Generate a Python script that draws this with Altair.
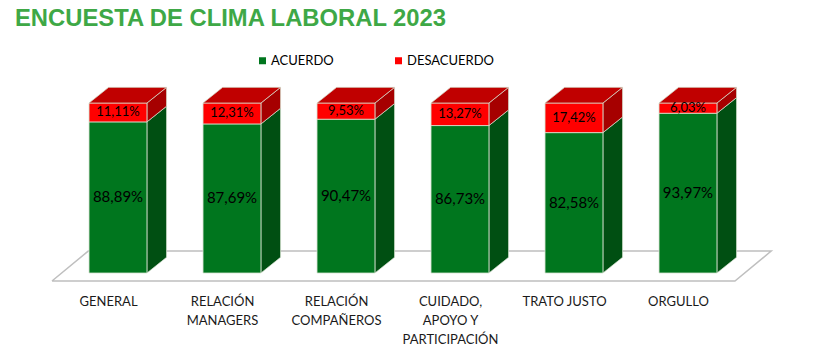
import altair as alt
import pandas as pd

# ---- data ----
categories = ["GENERAL", "RELACIÓN\nMANAGERS", "RELACIÓN\nCOMPAÑEROS",
              "CUIDADO,\nAPOYO Y\nPARTICIPACIÓN", "TRATO JUSTO", "ORGULLO"]
acuerdo = [88.89, 87.69, 90.47, 86.73, 82.58, 93.97]
desacuerdo = [11.11, 12.31, 9.53, 13.27, 17.42, 6.03]
series_names = ["ACUERDO", "DESACUERDO"]

# ---- styling / geometry constants ----
HALF = 0.254      # half bar width (category units)
DX = 0.172        # 3D depth, horizontal (category units)
DY = 9.2          # 3D depth, vertical (value units)
LABEL_SHIFT = -0.083
X_DOM = [-1.035, 6.237]
Y_DOM = [-49.41, 137.06]
GREEN, RED = "#00761E", "#FF0000"
GREEN_SIDE, RED_SIDE, RED_TOP = "#004F12", "#A60000", "#C00000"
EDGE = "#d6e3d0"
FONT = "Lato"


def fmt(v):
    return f"{v:.2f}".replace(".", ",") + "%"


front_rows, side_rows, top_rows, cat_rows = [], [], [], []
for i, cat in enumerate(categories):
    xl, xr = i - HALF, i + HALF
    segs = [("ACUERDO", 0.0, acuerdo[i], 15, GREEN_SIDE),
            ("DESACUERDO", acuerdo[i], acuerdo[i] + desacuerdo[i], 13, RED_SIDE)]
    for s, y0, y1, fs, sc in segs:
        front_rows.append(dict(i=i, series=s, xl=xl, xr=xr, xc=i, y0=y0, y1=y1,
                               ym=(y0 + y1) / 2, lab=fmt(y1 - y0), fs=fs))
        face = f"{i}-{s}"
        side_rows.append(dict(face=face, x=xr, ylo=y0, yhi=y1, col=sc))
        side_rows.append(dict(face=face, x=xr + DX, ylo=y0 + DY, yhi=y1 + DY, col=sc))
    total = acuerdo[i] + desacuerdo[i]
    top_rows.append(dict(i=i, y=total, xa=xl, xb=xr))
    top_rows.append(dict(i=i, y=total + DY, xa=xl + DX, xb=xr + DX))
    cat_rows.append(dict(x=i + LABEL_SHIFT, y=-19.2, cat=cat))

n = len(categories)
fl, fr = -HALF - 0.325, (n - 1) + HALF + 0.158
floor_front, floor_back = -4.7, 12.9
floor_dx = 0.318
floor_rows = [
    dict(o=0, x=fl, y=floor_front),
    dict(o=1, x=fr, y=floor_front),
    dict(o=2, x=fr + floor_dx, y=floor_back),
    dict(o=3, x=fl + floor_dx, y=floor_back),
    dict(o=4, x=fl, y=floor_front),
]

front_df = pd.DataFrame(front_rows)
side_df = pd.DataFrame(side_rows)
top_df = pd.DataFrame(top_rows)
cat_df = pd.DataFrame(cat_rows)
floor_df = pd.DataFrame(floor_rows)

xs = alt.Scale(domain=X_DOM, nice=False, zero=False)
ys = alt.Scale(domain=Y_DOM, nice=False, zero=False)

floor = alt.Chart(floor_df).mark_line(color="#BFBFBF", strokeWidth=1.5).encode(
    x=alt.X("x:Q", scale=xs, axis=None),
    y=alt.Y("y:Q", scale=ys, axis=None),
    order="o:Q",
)

side = alt.Chart(side_df).mark_area(orient="vertical", stroke=EDGE, strokeWidth=0.7).encode(
    x=alt.X("x:Q", scale=xs, axis=None),
    y=alt.Y("ylo:Q", scale=ys, axis=None),
    y2="yhi:Q",
    detail="face:N",
    color=alt.Color("col:N", scale=None),
)

front = alt.Chart(front_df).mark_rect(stroke=EDGE, strokeWidth=0.8).encode(
    x=alt.X("xl:Q", scale=xs, axis=None),
    x2="xr:Q",
    y=alt.Y("y0:Q", scale=ys, axis=None),
    y2="y1:Q",
    color=alt.Color(
        "series:N",
        scale=alt.Scale(domain=series_names, range=[GREEN, RED]),
        legend=alt.Legend(
            orient="none", legendX=256, legendY=14, direction="horizontal",
            title=None, symbolType="square", symbolSize=49, symbolStrokeWidth=0,
            labelFont=FONT, labelFontSize=13, labelColor="#000000",
            columnPadding=58, labelOffset=2, padding=0,
        ),
    ),
)

top = alt.Chart(top_df).mark_area(orient="horizontal", color=RED_TOP, stroke=EDGE, strokeWidth=0.7).encode(
    y=alt.Y("y:Q", scale=ys, axis=None),
    x=alt.X("xa:Q", scale=xs, axis=None),
    x2="xb:Q",
    detail="i:N",
)

values = alt.Chart(front_df).mark_text(font=FONT, color="#000000", baseline="middle", align="center").encode(
    x=alt.X("xc:Q", scale=xs, axis=None),
    y=alt.Y("ym:Q", scale=ys, axis=None),
    text="lab:N",
    size=alt.Size("fs:Q", scale=None),
)

cats = alt.Chart(cat_df).mark_text(font=FONT, fontSize=13, color="#1a1a1a", align="center",
                                   baseline="alphabetic", lineBreak="\n", lineHeight=19).encode(
    x=alt.X("x:Q", scale=xs, axis=None),
    y=alt.Y("y:Q", scale=ys, axis=None),
    text="cat:N",
)

chart = alt.layer(floor, side, front, top, values, cats).properties(
    width=829,
    height=317,
    padding={"left": 0, "top": 40, "right": 0, "bottom": 0},
    autosize=alt.AutoSizeParams(type="none"),
    title=alt.Title(
        "ENCUESTA DE CLIMA LABORAL 2023", anchor="start", frame="group",
        font="Liberation Sans", fontSize=23.8, fontWeight="bold", color="#3EA846",
        dx=15, offset=9,
    ),
).configure_view(strokeWidth=0)

chart.save("out.html", embed_options={"renderer": "svg", "actions": False})
